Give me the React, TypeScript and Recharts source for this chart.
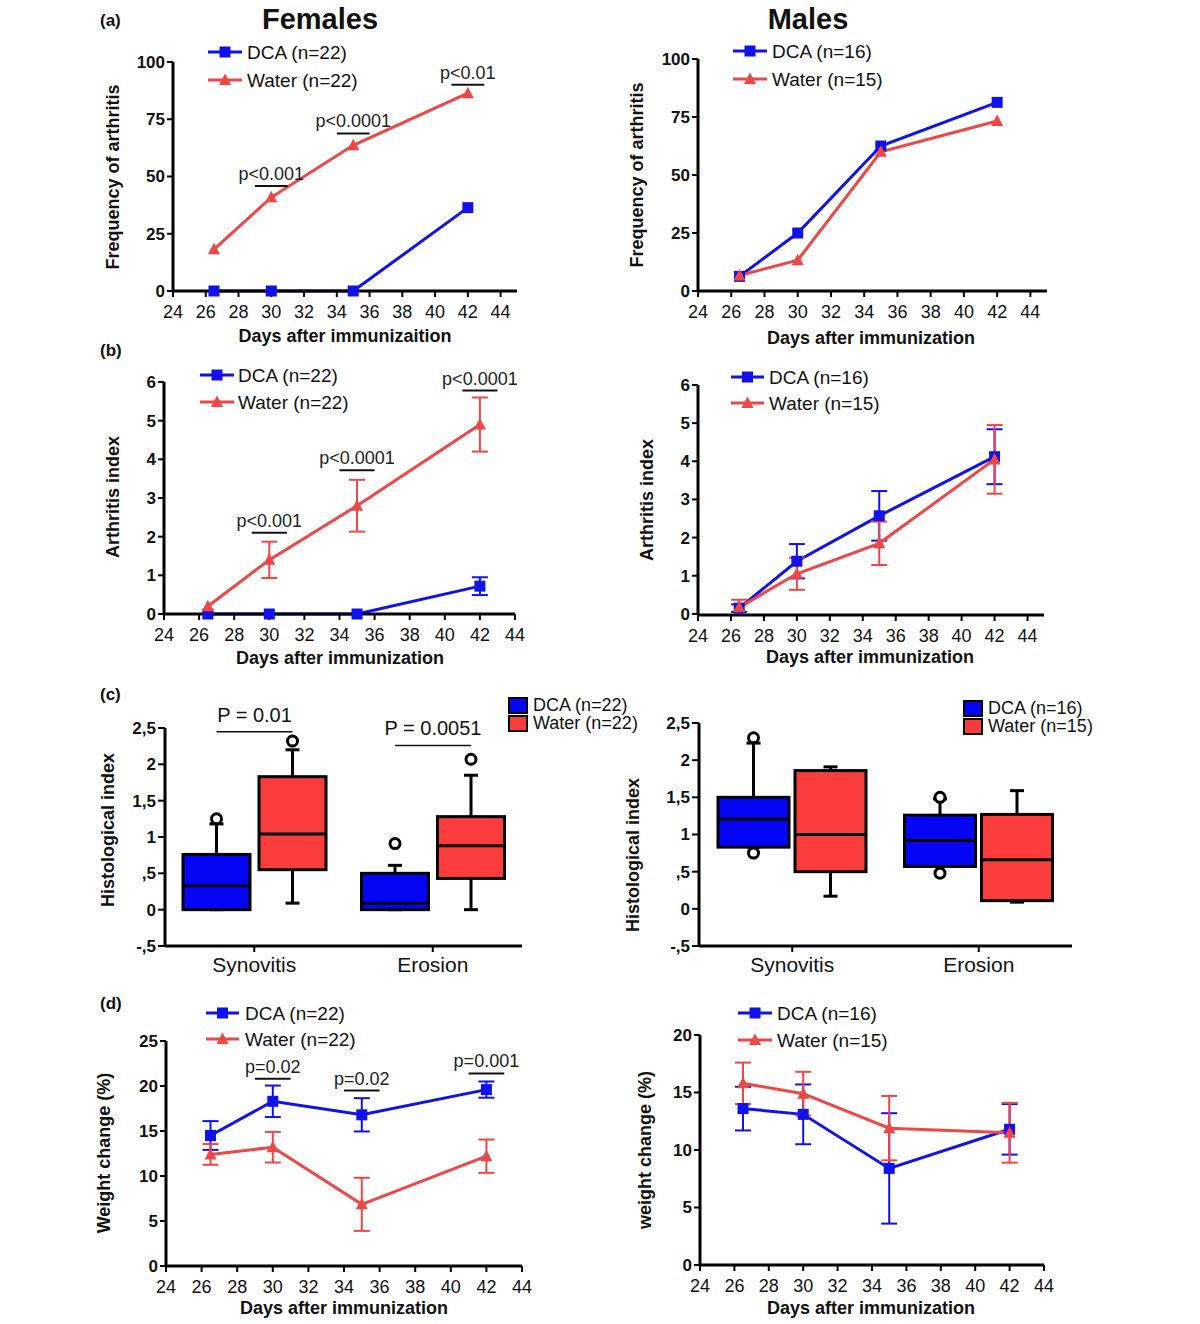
import React from "react";
import { LineChart, Line, XAxis, YAxis, ErrorBar, ReferenceLine, BarChart, Bar } from "recharts";

const FONT = '"Liberation Sans", Arial, Helvetica, sans-serif';
const BLUE = "#1111ee";
const RED = "#f04646";
const BOX_BLUE = "#0505f5";
const BOX_RED = "#fb3c3c";

// time points (days after immunization)
const days = [26.5, 30, 35, 42];
const dayTicks = [24, 26, 28, 30, 32, 34, 36, 38, 40, 42, 44];

// (a) frequency of arthritis (%)
const freqFemaleDCA = [0, 0, 0, 36.4];
const freqFemaleWater = [18.2, 40.9, 63.6, 86.4];
const freqMaleDCA = [6.3, 25, 62.5, 81.3];
const freqMaleWater = [6.7, 13.3, 60, 73.3];
const pFreqFemaleDays = [30, 35, 42];
const pFreqFemaleY = [45.9, 68.8, 90.1];
const pFreqFemaleText = ["p<0.001", "p<0.0001", "p<0.01"];

// (b) arthritis index, mean and error
const aiFemaleDCA = [0, 0, 0, 0.72];
const aiFemaleDCAErr = [0, 0, 0, 0.23];
const aiFemaleWater = [0.2, 1.4, 2.8, 4.9];
const aiFemaleWaterErr = [0, 0.47, 0.67, 0.7];
const aiMaleDCA = [0.15, 1.38, 2.57, 4.12];
const aiMaleDCAErr = [0.1, 0.45, 0.65, 0.72];
const aiMaleWater = [0.17, 1.05, 1.85, 4.05];
const aiMaleWaterErr = [0.2, 0.42, 0.57, 0.9];
const pAiFemaleDays = [30, 35, 42];
const pAiFemaleY = [2.1, 3.72, 5.78];
const pAiFemaleText = ["p<0.001", "p<0.0001", "p<0.0001"];

// (c) histological index: [min, q1, median, q3, max]
const histCategories = ["Synovitis", "Erosion"];
const histFemaleDCA = [[0, 0, 0.33, 0.76, 1.18], [0, 0, 0.09, 0.5, 0.61]];
const histFemaleDCAOut = [[1.25], [0.91]];
const histFemaleWater = [[0.09, 0.55, 1.04, 1.83, 2.2], [0, 0.43, 0.88, 1.28, 1.85]];
const histFemaleWaterOut = [[2.32], [2.07]];
const histFemaleP = ["P = 0.01", "P = 0.0051"];
const histFemalePY = [2.45, 2.26];
const histMaleDCA = [[0.83, 0.83, 1.21, 1.5, 2.23], [0.57, 0.57, 0.92, 1.26, 1.48]];
const histMaleDCAOut = [[2.3, 0.75], [1.5, 0.48]];
const histMaleWater = [[0.17, 0.5, 1.0, 1.86, 1.91], [0.09, 0.11, 0.66, 1.27, 1.59]];
const histMaleWaterOut = [[], []];
const histTicks = [-0.5, -0.25, 0, 0.25, 0.5, 0.75, 1, 1.25, 1.5, 1.75, 2, 2.25, 2.5];

// (d) weight change (%)
const wFemaleDCA = [14.5, 18.3, 16.8, 19.6];
const wFemaleDCAErr = [1.6, 1.75, 1.85, 0.9];
const wFemaleWater = [12.4, 13.2, 6.85, 12.2];
const wFemaleWaterErr = [1.15, 1.7, 2.95, 1.85];
const wMaleDCA = [13.6, 13.1, 8.4, 11.8];
const wMaleDCAErr = [1.9, 2.6, 4.8, 2.2];
const wMaleWater = [15.8, 14.9, 11.9, 11.5];
const wMaleWaterErr = [1.8, 1.9, 2.8, 2.6];
const pWFemaleDays = [30, 35, 42];
const pWFemaleY = [20.8, 19.5, 21.4];
const pWFemaleText = ["p=0.02", "p=0.02", "p=0.001"];

type Series = { color: string; marker: "square" | "triangle"; values: number[]; errors?: number[] };

function Marker({ cx, cy, color, kind }: any) {
  if (cx == null || cy == null) return null;
  if (kind === "square") return <rect x={cx - 5.5} y={cy - 5.5} width={11} height={11} fill={color} />;
  return <polygon points={`${cx},${cy - 6.5} ${cx + 6},${cy + 5} ${cx - 6},${cy + 5}`} fill={color} />;
}

function Txt({ x, y, size, bold, anchor = "middle", rotate, children }: any) {
  const tx = anchor === "middle" ? "-50%" : anchor === "end" ? "-100%" : "0";
  return (
    <div
      style={{
        position: "absolute",
        left: x,
        top: y,
        transform: `translate(${tx}, -50%)${rotate ? ` rotate(${rotate}deg)` : ""}`,
        fontFamily: FONT,
        fontSize: size,
        fontWeight: bold ? 700 : 400,
        lineHeight: 1,
        whiteSpace: "nowrap",
        color: "#111",
      }}
    >
      {children}
    </div>
  );
}

function LineLegend({ x1, x2, tx, y, gap, items }: any) {
  return (
    <>
      {items.map((it: any, i: number) => (
        <React.Fragment key={it.label}>
          <svg style={{ position: "absolute", left: x1, top: y + i * gap - 8 }} width={x2 - x1} height={16}>
            <line x1={0} x2={x2 - x1} y1={8} y2={8} stroke={it.color} strokeWidth={3} />
            <Marker cx={(x2 - x1) / 2} cy={8} color={it.color} kind={it.marker} />
          </svg>
          <Txt x={tx} y={y + i * gap} size={19} anchor="start">{it.label}</Txt>
        </React.Fragment>
      ))}
    </>
  );
}

function BoldYTick({ x, y, payload, label }: any) {
  return (
    <text x={x} y={y} dy="0.35em" textAnchor="end" fontSize={17} fontWeight={700} fontFamily={FONT} fill="#111">
      {label ? label(payload.value) : payload.value}
    </text>
  );
}

function LinePanel({ rect, xMax, yDomain, yTicks, series, pDays = [], pY = [], pText = [] }: any) {
  const ML = 70, MT = 30, MR = 30, XH = 50;
  const W = rect.r - rect.l + ML + MR;
  const H = rect.b - rect.t + MT + XH;
  return (
    <div style={{ position: "absolute", left: rect.l - ML, top: rect.t - MT }}>
      <LineChart width={W} height={H} margin={{ top: MT, right: MR, bottom: 0, left: 0 }}>
        <XAxis
          type="number"
          dataKey="day"
          domain={[24, xMax]}
          ticks={dayTicks}
          height={XH}
          axisLine={{ stroke: "#000", strokeWidth: 3 }}
          tickLine={{ stroke: "#000", strokeWidth: 2 }}
          tickSize={6}
          tickMargin={8}
          tick={{ fill: "#111", fontSize: 18, fontFamily: FONT }}
        />
        <YAxis
          type="number"
          domain={yDomain}
          ticks={yTicks}
          width={ML}
          axisLine={{ stroke: "#000", strokeWidth: 3 }}
          tickLine={{ stroke: "#000", strokeWidth: 2 }}
          tickSize={6}
          tickMargin={2}
          tick={(p: any) => <BoldYTick {...p} />}
        />
        {series.map((s: Series, si: number) => {
          const data = days.map((d, i) => ({ day: d, v: s.values[i], e: s.errors ? s.errors[i] : 0 }));
          return (
            <Line
              key={si}
              data={data}
              dataKey="v"
              stroke={s.color}
              strokeWidth={3}
              isAnimationActive={false}
              activeDot={false}
              dot={(p: any) => <Marker key={`m${si}-${p.index}`} cx={p.cx} cy={p.cy} color={s.color} kind={s.marker} />}
            >
              {s.errors && <ErrorBar dataKey="e" direction="y" width={8} strokeWidth={2} stroke={s.color} />}
            </Line>
          );
        })}
        {pDays.map((d: number, i: number) => (
          <ReferenceLine
            key={`p${i}`}
            segment={[{ x: d - 1, y: pY[i] }, { x: d + 1, y: pY[i] }]}
            stroke="#111"
            strokeWidth={2}
            label={{ value: pText[i], position: "top", offset: 6, fontSize: 18, fill: "#222", fontFamily: FONT }}
          />
        ))}
      </LineChart>
    </div>
  );
}

function histLabel(v: number) {
  if (v === 0) return "0";
  return (v < 0 ? "-" : "") + String(Math.abs(v)).replace(/^0/, "").replace(".", ",");
}

function HistTick({ x, y, payload }: any) {
  const v = payload.value;
  const major = Math.abs(v * 2 - Math.round(v * 2)) < 1e-6;
  return (
    <g>
      <line x1={x} x2={x - (major ? 7 : 4)} y1={y} y2={y} stroke="#000" strokeWidth={2} />
      {major && (
        <text x={x - 9} y={y} dy="0.35em" textAnchor="end" fontSize={17} fontWeight={700} fontFamily={FONT} fill="#111">
          {histLabel(v)}
        </text>
      )}
    </g>
  );
}

function BoxShape({ x, y, width, height, payload, stats, out, color, pair, barGap }: any) {
  const s = payload[stats];
  const top = Math.min(y, y + height);
  const h = Math.abs(height);
  const unit = h / (s[3] - s[1]);
  const py = (v: number) => top + (s[3] - v) * unit;
  const cx = x + width / 2;
  const cap = 7;
  const outs: number[] = payload[out] || [];
  return (
    <g>
      <line x1={cx} x2={cx} y1={py(s[3])} y2={py(s[4])} stroke="#000" strokeWidth={3} />
      <line x1={cx - cap} x2={cx + cap} y1={py(s[4])} y2={py(s[4])} stroke="#000" strokeWidth={3} />
      <line x1={cx} x2={cx} y1={py(s[1])} y2={py(s[0])} stroke="#000" strokeWidth={3} />
      <line x1={cx - cap} x2={cx + cap} y1={py(s[0])} y2={py(s[0])} stroke="#000" strokeWidth={3} />
      <rect x={x} y={top} width={width} height={h} fill={color} stroke="#000" strokeWidth={3} />
      <line x1={x} x2={x + width} y1={py(s[2])} y2={py(s[2])} stroke="#000" strokeWidth={3} />
      {outs.map((o, i) => (
        <circle key={i} cx={cx} cy={py(o)} r={5} fill="#fff" stroke="#000" strokeWidth={3} />
      ))}
      {pair && payload.p && (
        <g>
          <line x1={cx - width - barGap} x2={cx} y1={py(payload.pY)} y2={py(payload.pY)} stroke="#111" strokeWidth={1.5} />
          <text x={cx - (width + barGap) / 2} y={py(payload.pY) - 10} textAnchor="middle" fontSize={20} fontFamily={FONT} fill="#111">
            {payload.p}
          </text>
        </g>
      )}
    </g>
  );
}

function BoxPanel({ rect, rows, barSize, barGap }: any) {
  const ML = 60, MT = 40, MR = 20, XH = 50;
  const W = rect.r - rect.l + ML + MR;
  const H = rect.b - rect.t + MT + XH;
  return (
    <div style={{ position: "absolute", left: rect.l - ML, top: rect.t - MT }}>
      <BarChart width={W} height={H} data={rows} margin={{ top: MT, right: MR, bottom: 0, left: 0 }} barGap={barGap}>
        <XAxis
          dataKey="cat"
          height={XH}
          axisLine={{ stroke: "#000", strokeWidth: 3 }}
          tickLine={{ stroke: "#000", strokeWidth: 2 }}
          tickSize={6}
          tickMargin={5}
          tick={{ fill: "#111", fontSize: 21, fontFamily: FONT }}
        />
        <YAxis
          type="number"
          domain={[-0.5, 2.5]}
          ticks={histTicks}
          width={ML}
          axisLine={{ stroke: "#000", strokeWidth: 3 }}
          tickLine={false}
          tickSize={0}
          tickMargin={0}
          tick={(p: any) => <HistTick {...p} />}
        />
        <Bar
          dataKey={(d: any) => [d.dca[1], d.dca[3]]}
          barSize={barSize}
          fill={BOX_BLUE}
          isAnimationActive={false}
          shape={(p: any) => <BoxShape {...p} stats="dca" out="dcaOut" color={BOX_BLUE} />}
        />
        <Bar
          dataKey={(d: any) => [d.water[1], d.water[3]]}
          barSize={barSize}
          fill={BOX_RED}
          isAnimationActive={false}
          shape={(p: any) => <BoxShape {...p} stats="water" out="waterOut" color={BOX_RED} pair barGap={barGap} />}
        />
      </BarChart>
    </div>
  );
}

function BoxLegend({ x, y, gap, items }: any) {
  return (
    <>
      {items.map((it: any, i: number) => (
        <React.Fragment key={it.label}>
          <div
            style={{
              position: "absolute",
              left: x,
              top: y + i * gap - 8,
              width: 16,
              height: 13,
              background: it.color,
              border: "2px solid #000",
            }}
          />
          <Txt x={x + 25} y={y + i * gap} size={18} anchor="start">{it.label}</Txt>
        </React.Fragment>
      ))}
    </>
  );
}

const femaleRows = histCategories.map((c, i) => ({
  cat: c,
  dca: histFemaleDCA[i],
  water: histFemaleWater[i],
  dcaOut: histFemaleDCAOut[i],
  waterOut: histFemaleWaterOut[i],
  p: histFemaleP[i],
  pY: histFemalePY[i],
}));
const maleRows = histCategories.map((c, i) => ({
  cat: c,
  dca: histMaleDCA[i],
  water: histMaleWater[i],
  dcaOut: histMaleDCAOut[i],
  waterOut: histMaleWaterOut[i],
}));

export default function App() {
  const dca = (v: number[], e?: number[]): Series => ({ color: BLUE, marker: "square", values: v, errors: e });
  const water = (v: number[], e?: number[]): Series => ({ color: RED, marker: "triangle", values: v, errors: e });
  const legF = [
    { label: "DCA (n=22)", color: BLUE, marker: "square" },
    { label: "Water (n=22)", color: RED, marker: "triangle" },
  ];
  const legM = [
    { label: "DCA (n=16)", color: BLUE, marker: "square" },
    { label: "Water (n=15)", color: RED, marker: "triangle" },
  ];
  return (
    <div style={{ position: "absolute", left: 0, top: 0, width: 1200, height: 1324, background: "#fff", overflow: "hidden" }}>
      {/* titles and panel letters */}
      <Txt x={320} y={19} size={29} bold>Females</Txt>
      <Txt x={808} y={19} size={29} bold>Males</Txt>
      <Txt x={100} y={20} size={17} bold anchor="start">(a)</Txt>
      <Txt x={100} y={350} size={17} bold anchor="start">(b)</Txt>
      <Txt x={100} y={694} size={17} bold anchor="start">(c)</Txt>
      <Txt x={100} y={1003} size={17} bold anchor="start">(d)</Txt>

      {/* (a) */}
      <LinePanel
        rect={{ l: 173, t: 62, r: 517, b: 291 }}
        xMax={45}
        yDomain={[0, 100]}
        yTicks={[0, 25, 50, 75, 100]}
        series={[dca(freqFemaleDCA), water(freqFemaleWater)]}
        pDays={pFreqFemaleDays}
        pY={pFreqFemaleY}
        pText={pFreqFemaleText}
      />
      <LinePanel
        rect={{ l: 698, t: 59, r: 1047, b: 291 }}
        xMax={45}
        yDomain={[0, 100]}
        yTicks={[0, 25, 50, 75, 100]}
        series={[dca(freqMaleDCA), water(freqMaleWater)]}
      />
      <LineLegend x1={208} x2={242} tx={247} y={52} gap={28} items={legF} />
      <LineLegend x1={733} x2={767} tx={772} y={51} gap={28} items={legM} />
      <Txt x={113} y={177} size={18} bold rotate={-90}>Frequency of arthritis</Txt>
      <Txt x={637} y={175} size={18} bold rotate={-90}>Frequency of arthritis</Txt>
      <Txt x={345} y={336} size={18} bold>Days after immunizaition</Txt>
      <Txt x={871} y={338} size={18} bold>Days after immunization</Txt>

      {/* (b) */}
      <LinePanel
        rect={{ l: 164, t: 382, r: 515, b: 614 }}
        xMax={44}
        yDomain={[0, 6]}
        yTicks={[0, 1, 2, 3, 4, 5, 6]}
        series={[dca(aiFemaleDCA, aiFemaleDCAErr), water(aiFemaleWater, aiFemaleWaterErr)]}
        pDays={pAiFemaleDays}
        pY={pAiFemaleY}
        pText={pAiFemaleText}
      />
      <LinePanel
        rect={{ l: 698, t: 385, r: 1044, b: 615 }}
        xMax={45}
        yDomain={[0, 6]}
        yTicks={[0, 1, 2, 3, 4, 5, 6]}
        series={[dca(aiMaleDCA, aiMaleDCAErr), water(aiMaleWater, aiMaleWaterErr)]}
      />
      <LineLegend x1={200} x2={234} tx={238} y={375} gap={27} items={legF} />
      <LineLegend x1={731} x2={764} tx={769} y={377} gap={26} items={legM} />
      <Txt x={113} y={497} size={18} bold rotate={-90}>Arthritis index</Txt>
      <Txt x={647} y={500} size={18} bold rotate={-90}>Arthritis index</Txt>
      <Txt x={340} y={658} size={18} bold>Days after immunization</Txt>
      <Txt x={870} y={657} size={18} bold>Days after immunization</Txt>

      {/* (c) */}
      <BoxPanel rect={{ l: 165, t: 728, r: 522, b: 946 }} rows={femaleRows} barSize={67} barGap={9} />
      <BoxPanel rect={{ l: 699, t: 723, r: 1072, b: 946 }} rows={maleRows} barSize={71} barGap={6} />
      <BoxLegend x={508} y={705} gap={18} items={[{ label: "DCA (n=22)", color: BOX_BLUE }, { label: "Water (n=22)", color: BOX_RED }]} />
      <BoxLegend x={963} y={708} gap={18} items={[{ label: "DCA (n=16)", color: BOX_BLUE }, { label: "Water (n=15)", color: BOX_RED }]} />
      <Txt x={108} y={830} size={18} bold rotate={-90}>Histological index</Txt>
      <Txt x={633} y={855} size={18} bold rotate={-90}>Histological index</Txt>

      {/* (d) */}
      <LinePanel
        rect={{ l: 166, t: 1041, r: 522, b: 1266 }}
        xMax={44}
        yDomain={[0, 25]}
        yTicks={[0, 5, 10, 15, 20, 25]}
        series={[dca(wFemaleDCA, wFemaleDCAErr), water(wFemaleWater, wFemaleWaterErr)]}
        pDays={pWFemaleDays}
        pY={pWFemaleY}
        pText={pWFemaleText}
      />
      <LinePanel
        rect={{ l: 700, t: 1035, r: 1044, b: 1265 }}
        xMax={44}
        yDomain={[0, 20]}
        yTicks={[0, 5, 10, 15, 20]}
        series={[dca(wMaleDCA, wMaleDCAErr), water(wMaleWater, wMaleWaterErr)]}
      />
      <LineLegend x1={206} x2={239} tx={245} y={1013} gap={26} items={legF} />
      <LineLegend x1={738} x2={772} tx={777} y={1013} gap={27} items={legM} />
      <Txt x={104} y={1153} size={18} bold rotate={-90}>Weight change (%)</Txt>
      <Txt x={645} y={1150} size={18} bold rotate={-90}>weight change (%)</Txt>
      <Txt x={344} y={1308} size={18} bold>Days after immunization</Txt>
      <Txt x={871} y={1308} size={18} bold>Days after immunization</Txt>
    </div>
  );
}
